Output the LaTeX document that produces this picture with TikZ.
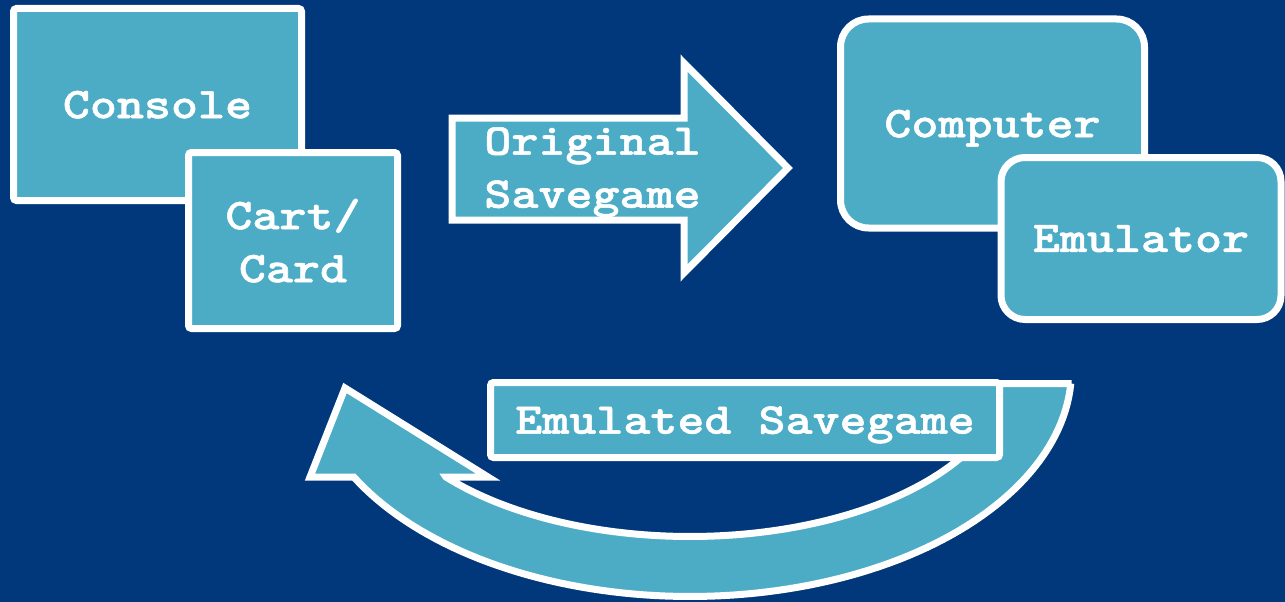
\documentclass[tikz,border=0pt]{standalone}
\usepackage{fontspec}
\usetikzlibrary{shadows}
\newfontfamily\cour{lmmonolt10-bold.otf}[FakeStretch=1.17,FakeBold=1.2]
\definecolor{bgblue}{RGB}{0,56,123}
\definecolor{tealbox}{RGB}{76,172,198}
\begin{document}
\begin{tikzpicture}[x=1pt,y=-1pt,
  shp/.style={fill=tealbox, draw=white, line width=7pt, line join=miter,
    drop shadow={shadow xshift=2pt, shadow yshift=-3pt, opacity=0.35, fill=black}},
  boxnode/.style={shp, rectangle, inner sep=0pt, rounded corners=3pt},
  lbl/.style={text=white, font=\cour\fontsize{44}{53}\selectfont, align=center, text depth=0pt}]
\fill[bgblue] (0,0) rectangle (1285,602);
\useasboundingbox (0,0) rectangle (1285,602);

% left boxes
\node[boxnode, lbl, minimum width=288pt, minimum height=192pt] (console) at (157.5,104.5) {Console};
\node[boxnode, lbl, minimum width=209pt, minimum height=176pt] (cart) at (293,240.5) {Cart/\\Card};

% right boxes
\node[boxnode, lbl, rounded corners=28pt, minimum width=304pt, minimum height=209pt] (computer) at (992.5,123.5) {Computer};
\node[boxnode, lbl, rounded corners=24pt, minimum width=280pt, minimum height=162pt] (emulator) at (1141,238.5) {Emulator};

% right block arrow
\draw[shp] (452,118) -- (684,118) -- (684,63) -- (788,168) -- (684,273) -- (684,220) -- (452,220) -- cycle;
\node[lbl] (orig) at (592.5,167.5) {Original\\Savegame};

% curved return arrow
\draw[shp] (980,383.5) -- (1071.5,383.5)
  -- plot[domain=3.42:151.8, samples=90] ({690+381.5*cos(\x)},{370+226.5*sin(\x)})
  -- (310,477) -- (345,388) -- (488,477) -- (446,477)
  -- plot[domain=140:20, samples=90] ({690+318.5*cos(\x)},{370+166.5*sin(\x)})
  -- cycle;
\node[boxnode, lbl, minimum width=509pt, minimum height=75pt] (emu) at (745,420) {Emulated Savegame};
\end{tikzpicture}
\end{document}
